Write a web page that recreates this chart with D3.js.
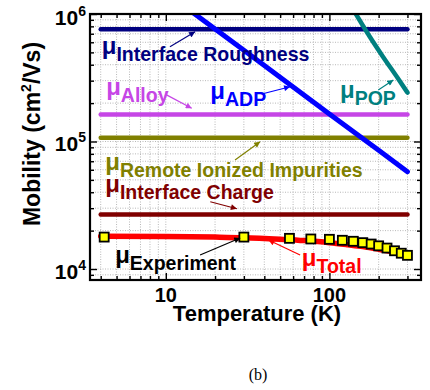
<!DOCTYPE html>
<html>
<head>
<meta charset="utf-8">
<script src="https://cdn.jsdelivr.net/npm/d3@7"></script>
<style>
  body { margin: 0; background: #fff; }
  svg { display: block; }
</style>
</head>
<body>
<svg id="chart" width="430" height="390"></svg>
<script>
// ---- measured mobility (squares) ----
const T_EXP  = [4.2, 30, 57, 77, 100, 120, 140, 160, 180, 200, 225, 250, 275, 300];
const MU_EXP = [17800, 17800, 17400, 17200, 17100, 16800, 16500, 16100, 15700, 15200, 14600, 13900, 13300, 12800];

// ---- total mobility from the model ----
const T_TOTAL  = [4, 10, 20, 30, 50, 70, 100, 130, 160, 200, 250, 300];
const MU_TOTAL = [18100, 18000, 17800, 17600, 17100, 16700, 16100, 15500, 15000, 14300, 13550, 12950];

// ---- temperature-independent scattering limits ----
const T_FLAT = [4, 300];
const MU_ROUGHNESS = [7.6e5, 7.6e5];
const MU_ALLOY     = [1.63e5, 1.63e5];
const MU_REMOTE    = [1.07e5, 1.07e5];
const MU_CHARGE    = [2.68e4, 2.68e4];

// ---- acoustic deformation potential ----
const T_ADP  = [14, 30, 100, 200, 300];
const MU_ADP = [1.07e6, 5.2e5, 1.64e5, 8.55e4, 5.8e4];

// ---- polar optical phonon ----
const T_POP  = [140, 177, 213, 259, 300];
const MU_POP = [1.08e6, 6.6e5, 4.6e5, 3.2e5, 2.42e5];

// ---- axes ----
const X_MAJOR = [10, 100];
const X_TICK_LABELS = ["10", "100"];
const X_MINOR = [4, 5, 6, 7, 8, 9, 20, 30, 40, 50, 60, 70, 80, 90, 200, 300];
const Y_MAJOR = [1e4, 1e5, 1e6];
const Y_TICK_EXP = ["4", "5", "6"];
const Y_MINOR = [9e3, 2e4, 3e4, 4e4, 5e4, 6e4, 7e4, 8e4, 9e4, 2e5, 3e5, 4e5, 5e5, 6e5, 7e5, 8e5, 9e5];

const X_TITLE = "Temperature (K)";
const CAPTION = "(b)";

const FONT = "'Liberation Sans', Arial, sans-serif";
const C = {
  navy: "#000080", alloy: "#c646e6", olive: "#808000", maroon: "#800000",
  blue: "#0000ff", teal: "#008080", red: "#ff0000", black: "#000000"
};

const svg = d3.select("#chart");
const P = { left: 90, right: 421, top: 14, bottom: 280 };

const x = d3.scaleLog().domain([3.44, 363]).range([P.left, P.right]);
const y = d3.scaleLog().domain([8200, 1e6]).range([P.bottom, P.top]);

svg.append("defs").append("clipPath").attr("id", "plotClip")
  .append("rect").attr("x", P.left).attr("y", P.top)
  .attr("width", P.right - P.left).attr("height", P.bottom - P.top);

// ---- dotted grid ----
const grid = svg.append("g").attr("stroke", "#b8b8b8").attr("stroke-width", 1)
  .attr("stroke-dasharray", "1,1.5");
grid.selectAll("line.gx").data(X_MAJOR.concat(X_MINOR)).join("line")
  .attr("x1", d => x(d)).attr("x2", d => x(d)).attr("y1", P.top).attr("y2", P.bottom);
grid.selectAll("line.gy").data(Y_MAJOR.concat(Y_MINOR)).join("line")
  .attr("y1", d => y(d)).attr("y2", d => y(d)).attr("x1", P.left).attr("x2", P.right);

// ---- curves ----
const zip = (ts, ms) => ts.map((t, i) => [t, ms[i]]);
const line = d3.line().x(d => x(d[0])).y(d => y(d[1]));
const smooth = d3.line().x(d => x(d[0])).y(d => y(d[1])).curve(d3.curveMonotoneX);

const curves = svg.append("g").attr("clip-path", "url(#plotClip)")
  .attr("fill", "none").attr("stroke-linecap", "round");

const series = [
  { pts: zip(T_FLAT, MU_ROUGHNESS), color: C.navy,   w: 4.5, gen: line },
  { pts: zip(T_FLAT, MU_ALLOY),     color: C.alloy,  w: 4.5, gen: line },
  { pts: zip(T_FLAT, MU_REMOTE),    color: C.olive,  w: 4.5, gen: line },
  { pts: zip(T_FLAT, MU_CHARGE),    color: C.maroon, w: 4.5, gen: line },
  { pts: zip(T_ADP, MU_ADP),        color: C.blue,   w: 5,   gen: line },
  { pts: zip(T_POP, MU_POP),        color: C.teal,   w: 4.5, gen: smooth }
];
series.forEach(s => {
  curves.append("path").attr("d", s.gen(s.pts))
    .attr("stroke", s.color).attr("stroke-width", s.w);
});

// measured points
svg.append("g").selectAll("rect").data(zip(T_EXP, MU_EXP)).join("rect")
  .attr("x", d => x(d[0]) - 4.5).attr("y", d => y(d[1]) - 4.5)
  .attr("width", 9).attr("height", 9)
  .attr("fill", "#ffff00").attr("stroke", C.black).attr("stroke-width", 1.8);

// total model curve drawn over the squares
curves.append("path").attr("d", smooth(zip(T_TOTAL, MU_TOTAL)))
  .attr("stroke", C.red).attr("stroke-width", 5.5);

// ---- ticks (inside, all four sides) ----
function ticks(axisFn, vals, size, transform) {
  const g = svg.append("g").attr("transform", transform)
    .call(axisFn.tickValues(vals).tickSize(-size).tickFormat(""));
  g.select(".domain").remove();
  g.selectAll(".tick line").attr("stroke", C.black).attr("stroke-width", 1.4);
}
[[d3.axisBottom(x), X_MAJOR, 7, `translate(0,${P.bottom})`],
 [d3.axisBottom(x), X_MINOR, 4, `translate(0,${P.bottom})`],
 [d3.axisTop(x),    X_MAJOR, 7, `translate(0,${P.top})`],
 [d3.axisTop(x),    X_MINOR, 4, `translate(0,${P.top})`],
 [d3.axisLeft(y),   Y_MAJOR, 7, `translate(${P.left},0)`],
 [d3.axisLeft(y),   Y_MINOR, 4, `translate(${P.left},0)`],
 [d3.axisRight(y),  Y_MAJOR, 7, `translate(${P.right},0)`],
 [d3.axisRight(y),  Y_MINOR, 4, `translate(${P.right},0)`]
].forEach(a => ticks(...a));

svg.append("rect").attr("x", P.left).attr("y", P.top)
  .attr("width", P.right - P.left).attr("height", P.bottom - P.top)
  .attr("fill", "none").attr("stroke", C.black).attr("stroke-width", 2.2);

// ---- tick labels ----
const lbl = svg.append("g").attr("font-family", FONT).attr("font-weight", "bold").attr("fill", C.black);
lbl.selectAll("text.xl").data(X_MAJOR).join("text")
  .attr("x", d => x(d)).attr("y", 302).attr("text-anchor", "middle")
  .attr("font-size", 20).text((d, i) => X_TICK_LABELS[i]);

Y_MAJOR.forEach((v, i) => {
  const t = lbl.append("text").attr("x", 86).attr("y", y(v) + (i === 2 ? 10.5 : 9.5))
    .attr("text-anchor", "end").attr("font-size", 21);
  t.append("tspan").text("10");
  t.append("tspan").attr("font-size", 14).attr("dy", -9).text(Y_TICK_EXP[i]);
});

// ---- axis titles ----
lbl.append("text").attr("x", 257).attr("y", 321).attr("text-anchor", "middle")
  .attr("font-size", 22).text(X_TITLE);

const yt = lbl.append("text").attr("transform", "translate(40,134) rotate(-90)")
  .attr("text-anchor", "middle").attr("font-size", 23);
yt.append("tspan").text("Mobility (cm");
yt.append("tspan").attr("font-size", 14).attr("dy", -9).text("2");
yt.append("tspan").attr("dy", 9).text("/Vs)");

svg.append("text").attr("x", 258).attr("y", 380).attr("text-anchor", "middle")
  .attr("font-family", "'Liberation Serif', 'Times New Roman', serif")
  .attr("font-size", 16).attr("fill", C.black).text(CAPTION);

// ---- annotations: label anchor and arrow, in (T, mobility) coordinates ----
const NOTES = [
  { sub: "Interface Roughness", color: C.navy,   at: [4.06, 4.28e5], from: [10.6, 5.54e5], to: [15.1, 7.26e5] },
  { sub: "Alloy",               color: C.alloy,  at: [4.32, 2.04e5], from: [10.1, 2.32e5], to: [14.4, 1.82e5] },
  { sub: "ADP",                 color: C.blue,   at: [18.7, 1.90e5], from: [38.6, 2.36e5], to: [57.5, 2.69e5] },
  { sub: "POP",                 color: C.teal,   at: [116,  1.93e5], from: [199,  2.53e5], to: [246,  3.04e5] },
  { sub: "Remote Ionized Impurities", color: C.olive, at: [4.26, 5.30e4], from: [26.5, 7.16e4], to: [37.7, 9.96e4] },
  { sub: "Interface Charge",    color: C.maroon, at: [4.26, 3.52e4], from: [18.7, 3.37e4], to: [27.2, 2.97e4] },
  { sub: "Experiment",          color: C.black,  at: [4.9,  9822],   from: [16.2, 1.288e4], to: [28.5, 1.75e4] },
  { sub: "Total",               color: C.red,    at: [67.8, 9254],   from: [66.2, 1.288e4], to: [42.4, 1.689e4] }
];

const defs = svg.select("defs");
NOTES.forEach((n, i) => {
  defs.append("marker").attr("id", "ah" + i)
    .attr("viewBox", "0 0 10 10").attr("refX", 10).attr("refY", 5)
    .attr("markerUnits", "userSpaceOnUse").attr("markerWidth", 7).attr("markerHeight", 6)
    .attr("orient", "auto")
    .append("path").attr("d", "M0,0 L10,5 L0,10 Z").attr("fill", n.color);
});

const notes = svg.append("g").attr("font-family", FONT).attr("font-weight", "bold");
NOTES.forEach((n, i) => {
  notes.append("line")
    .attr("x1", x(n.from[0])).attr("y1", y(n.from[1]))
    .attr("x2", x(n.to[0])).attr("y2", y(n.to[1]))
    .attr("stroke", n.color).attr("stroke-width", 1.2)
    .attr("marker-end", `url(#ah${i})`);
  const t = notes.append("text").attr("x", x(n.at[0])).attr("y", y(n.at[1])).attr("fill", n.color);
  t.append("tspan").attr("font-size", 24).attr("dy", -7).text("μ");
  t.append("tspan").attr("font-size", 19.5).attr("dy", 7).text(n.sub);
});
</script>
</body>
</html>
